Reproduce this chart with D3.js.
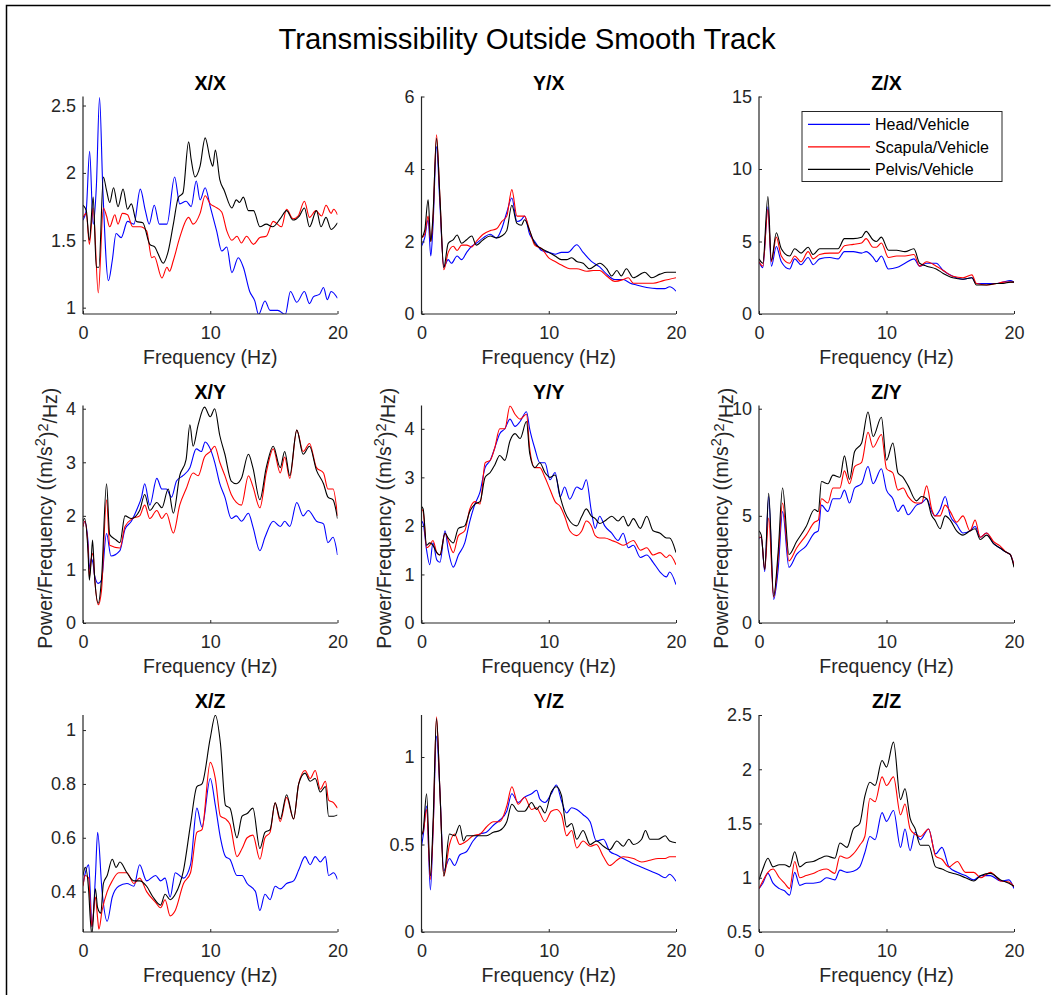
<!DOCTYPE html>
<html><head><meta charset="utf-8">
<script src="https://cdn.jsdelivr.net/npm/d3@7"></script>
<style>
body{margin:0;background:#fff}
svg{display:block}
text{font-family:"Liberation Sans",Arial,Helvetica,sans-serif;fill:#262626}
</style>
</head><body>
<svg id="c" width="1056" height="995"></svg>
<script>
// ---------------- DATA ----------------
const figTitle = "Transmissibility Outside Smooth Track";
const seriesNames = ["Head/Vehicle", "Scapula/Vehicle", "Pelvis/Vehicle"];
const seriesColors = ["#0000ff", "#ff0000", "#000000"];
const panelTitles = ["X/X", "Y/X", "Z/X", "X/Y", "Y/Y", "Z/Y", "X/Z", "Y/Z", "Z/Z"];
const xTicks = [0, 10, 20];
const xDomain = [0, 20];
const yDomains = [[0.953, 2.567], [0, 6], [0, 15], [0, 4.06], [0, 4.48], [0, 10.15], [0.25, 1.056], [0, 1.24], [0.5, 2.5]];
const yTicks = [[1, 1.5, 2, 2.5], [0, 2, 4, 6], [0, 5, 10, 15], [0, 1, 2, 3, 4], [0, 1, 2, 3, 4], [0, 5, 10], [0.4, 0.6, 0.8, 1], [0, 0.5, 1], [0.5, 1, 1.5, 2, 2.5]];
const xLabel = "Frequency (Hz)";

// [frequency Hz, transmissibility]
const xxHead = [[0,1.65],[0.25,1.72],[0.52,2.16],[0.8,1.62],[1.05,1.9],[1.3,2.56],[1.55,1.9],[2.0,1.2],[2.3,1.35],[2.6,1.55],[3.0,1.52],[3.5,1.64],[4.0,1.62],[4.5,1.88],[4.9,1.72],[5.2,1.62],[5.6,1.76],[6.0,1.62],[6.6,1.62],[7.2,1.97],[7.6,1.77],[8.1,1.79],[8.5,1.75],[8.9,1.94],[9.2,1.80],[9.6,1.89],[10.0,1.75],[10.5,1.57],[10.9,1.42],[11.3,1.45],[11.7,1.26],[12.2,1.37],[12.6,1.30],[13.1,1.12],[13.5,1.05],[13.8,0.95],[14.3,1.05],[14.7,0.98],[15.3,0.98],[15.9,0.95],[16.3,1.12],[16.8,1.04],[17.4,1.12],[17.8,1.03],[18.1,1.08],[18.6,1.10],[18.9,1.15],[19.2,1.06],[19.5,1.12],[20,1.07]];
const xxScap = [[0,1.67],[0.26,1.7],[0.5,1.47],[0.8,1.74],[1.2,1.11],[1.6,1.74],[1.85,1.68],[2.1,1.6],[2.5,1.69],[2.75,1.62],[3.1,1.70],[3.5,1.69],[3.9,1.6],[4.5,1.6],[5.0,1.57],[5.4,1.37],[5.6,1.38],[6.2,1.22],[6.6,1.3],[6.8,1.27],[7.1,1.35],[7.6,1.52],[8.3,1.67],[8.65,1.62],[9.2,1.7],[9.6,1.83],[10.0,1.77],[10.35,1.75],[10.9,1.71],[11.3,1.57],[11.7,1.5],[12.1,1.53],[12.45,1.48],[12.85,1.53],[13.4,1.47],[13.9,1.52],[14.4,1.53],[14.95,1.64],[15.6,1.6],[16.0,1.73],[16.5,1.66],[16.9,1.68],[17.4,1.79],[17.8,1.67],[18.3,1.72],[18.75,1.68],[19.1,1.76],[19.5,1.70],[19.7,1.73],[20,1.69]];
const xxPelv = [[0,1.76],[0.26,1.72],[0.5,1.5],[0.8,1.82],[1.05,1.3],[1.25,1.3],[1.6,1.97],[1.85,1.87],[2.1,1.78],[2.4,1.89],[2.75,1.75],[3.15,1.88],[3.5,1.73],[3.8,1.77],[4.2,1.64],[4.7,1.63],[5.25,1.47],[5.65,1.45],[5.9,1.4],[6.3,1.33],[6.7,1.42],[7.1,1.62],[7.5,1.82],[7.85,1.85],[8.3,2.23],[8.5,2.1],[8.8,1.97],[9.2,2.05],[9.6,2.26],[10.0,2.1],[10.2,2.05],[10.4,2.17],[10.75,1.95],[11.1,1.87],[11.7,1.74],[12.05,1.8],[12.3,1.78],[12.6,1.82],[13.0,1.72],[13.4,1.72],[13.9,1.6],[14.4,1.62],[14.9,1.6],[15.5,1.66],[16.0,1.72],[16.5,1.65],[17.0,1.68],[17.4,1.74],[17.8,1.6],[18.35,1.72],[18.7,1.6],[19.1,1.67],[19.5,1.58],[20,1.63]];

const yxHead = [[0,1.87],[0.25,2.1],[0.52,2.6],[0.73,1.6],[0.9,2.4],[1.18,4.62],[1.45,3.0],[1.75,1.3],[2.1,1.5],[2.35,1.4],[2.8,1.6],[3.15,1.5],[3.55,1.7],[3.95,1.87],[4.3,1.95],[4.85,2.1],[5.4,2.2],[5.9,2.1],[6.3,2.35],[6.7,2.8],[7.1,3.2],[7.5,2.55],[7.85,2.6],[8.1,2.7],[8.5,2.2],[8.9,2.0],[9.45,1.75],[10.0,1.7],[10.5,1.65],[11.0,1.7],[11.5,1.7],[12.2,1.91],[12.7,1.7],[13.35,1.45],[14.0,1.3],[14.55,1.1],[15.2,0.95],[15.85,0.95],[16.4,0.85],[16.9,0.8],[17.7,0.73],[18.5,0.7],[19.1,0.7],[19.5,0.75],[20,0.63]];
const yxScap = [[0,2.1],[0.25,2.2],[0.52,2.7],[0.73,2.0],[0.9,2.6],[1.18,4.94],[1.45,3.2],[1.75,1.22],[2.1,1.7],[2.5,1.87],[2.8,1.75],[3.15,1.9],[3.55,1.9],[3.95,1.85],[4.3,2.0],[4.85,2.2],[5.4,2.3],[5.9,2.35],[6.3,2.55],[6.7,2.7],[7.1,3.43],[7.5,2.7],[7.85,2.7],[8.1,2.7],[8.5,2.3],[8.9,1.9],[9.45,1.8],[10.0,1.55],[10.5,1.45],[11.0,1.35],[11.65,1.25],[12.2,1.25],[13.0,1.18],[13.5,1.2],[14.0,1.2],[14.55,1.05],[15.2,0.9],[15.85,0.95],[16.25,1.0],[16.65,0.85],[17.45,0.85],[18.2,0.85],[19.0,0.92],[20,1.0]];
const yxPelv = [[0,2.1],[0.25,2.3],[0.52,3.15],[0.73,2.0],[0.9,2.7],[1.18,4.85],[1.45,3.2],[1.75,1.28],[2.1,1.95],[2.5,2.05],[2.8,2.18],[3.15,1.95],[3.55,2.05],[3.95,2.15],[4.3,1.9],[4.85,2.05],[5.4,2.15],[5.9,2.1],[6.3,2.15],[6.7,2.3],[7.1,3.0],[7.5,2.5],[7.85,2.45],[8.1,2.6],[8.5,2.3],[8.9,1.95],[9.45,1.8],[10.0,1.7],[10.5,1.6],[11.0,1.5],[11.4,1.5],[11.8,1.55],[12.2,1.45],[12.7,1.4],[13.2,1.25],[14.0,1.4],[14.55,1.25],[14.95,1.05],[15.35,1.2],[15.7,1.05],[16.1,1.25],[16.65,1.0],[17.55,1.15],[18.1,1.0],[18.75,1.1],[19.3,1.15],[20,1.15]];

const zxHead = [[0,3.6],[0.3,3.2],[0.7,7.4],[0.97,3.3],[1.36,4.66],[1.75,3.6],[2.4,3.1],[2.8,3.8],[3.3,3.4],[3.85,3.9],[4.25,3.4],[4.75,3.8],[5.55,3.9],[6.2,3.8],[6.7,4.3],[7.4,4.3],[8.05,4.2],[8.4,4.3],[8.95,3.9],[9.2,3.6],[9.6,4.0],[10.15,3.1],[10.8,3.2],[11.45,3.5],[12.15,3.8],[12.6,3.3],[13.15,3.5],[13.9,3.5],[14.45,3.0],[15.2,2.6],[16.0,2.4],[16.7,2.5],[17.05,2.1],[17.85,2.1],[18.65,2.1],[19.15,2.2],[19.7,2.3],[20,2.2]];
const zxScap = [[0,3.6],[0.3,3.3],[0.7,7.2],[0.97,3.6],[1.36,5.3],[1.75,4.0],[2.4,3.5],[2.8,4.0],[3.3,3.6],[3.85,4.3],[4.25,3.8],[4.75,4.1],[5.55,4.2],[6.2,4.2],[6.7,4.7],[7.4,4.8],[8.05,4.9],[8.4,5.2],[8.95,4.6],[9.2,4.6],[9.6,4.9],[10.15,3.9],[10.8,4.0],[11.45,4.0],[12.15,4.1],[12.6,3.3],[13.15,3.6],[13.9,3.3],[14.45,3.0],[15.2,2.6],[16.0,2.5],[16.7,2.7],[17.05,2.1],[17.85,2.0],[18.65,2.1],[19.15,2.2],[19.7,2.2],[20,2.2]];
const zxPelv = [[0,3.8],[0.3,3.5],[0.7,8.1],[0.97,3.7],[1.36,5.6],[1.75,4.5],[2.4,4.0],[2.8,4.5],[3.3,4.2],[3.85,4.6],[4.25,4.1],[4.75,4.5],[5.55,4.5],[6.2,4.5],[6.7,5.2],[7.4,5.2],[8.05,5.3],[8.4,5.7],[8.95,5.1],[9.2,5.0],[9.6,5.3],[10.15,4.4],[10.8,4.4],[11.45,4.3],[12.15,4.5],[12.6,3.5],[13.15,3.3],[13.9,3.1],[14.45,2.8],[15.2,2.5],[16.0,2.4],[16.7,2.5],[17.05,2.0],[17.85,2.0],[18.65,2.1],[19.15,2.1],[19.7,2.2],[20,2.2]];

const xyHead = [[0,1.8],[0.13,1.9],[0.4,1.5],[0.5,1.0],[0.65,1.2],[0.8,1.1],[0.9,0.9],[1.2,0.74],[1.45,0.8],[1.85,1.67],[2.2,1.25],[2.9,1.35],[3.3,1.75],[3.8,1.9],[4.2,2.1],[4.6,2.35],[4.85,2.6],[5.25,2.2],[5.8,2.7],[6.2,2.5],[6.55,2.5],[6.95,2.35],[7.35,2.65],[7.85,2.75],[8.4,2.9],[8.9,3.25],[9.3,3.2],[9.6,3.38],[10.0,3.25],[10.35,3.0],[10.75,2.6],[11.15,2.35],[11.65,1.95],[12.05,2.0],[12.45,1.9],[13.0,2.05],[13.35,1.8],[13.9,1.35],[14.3,1.6],[14.95,1.9],[15.5,1.8],[15.85,1.9],[16.25,1.8],[16.8,2.25],[17.3,2.0],[17.7,2.1],[18.35,1.9],[18.9,1.85],[19.25,1.5],[19.65,1.6],[20,1.27]];
const xyScap = [[0,1.8],[0.13,1.9],[0.4,1.4],[0.5,0.85],[0.65,1.2],[0.8,1.3],[0.9,0.9],[1.2,0.34],[1.45,0.6],[1.85,2.3],[2.1,1.45],[2.9,1.4],[3.3,1.8],[3.9,1.95],[4.45,2.0],[4.85,2.2],[5.25,1.95],[5.8,2.1],[6.2,1.95],[6.55,2.05],[7.1,1.68],[7.6,2.2],[8.1,2.5],[8.65,2.8],[9.05,2.75],[9.55,3.1],[10.0,3.2],[10.35,3.3],[10.75,3.0],[11.15,2.75],[11.65,2.4],[12.05,2.25],[12.45,2.2],[13.0,2.75],[13.35,2.55],[13.9,2.15],[14.4,2.8],[14.95,3.25],[15.5,2.8],[15.85,3.1],[16.25,2.7],[16.8,3.6],[17.3,3.2],[17.8,3.35],[18.35,2.9],[18.9,2.8],[19.25,2.5],[19.65,2.5],[20,2.0]];
const xyPelv = [[0,1.9],[0.13,1.95],[0.4,1.3],[0.5,0.8],[0.65,1.2],[0.75,1.55],[0.9,0.9],[1.2,0.37],[1.45,0.8],[1.85,2.6],[2.1,1.65],[2.6,1.55],[2.9,1.5],[3.3,2.0],[3.8,1.95],[4.45,2.1],[4.85,2.4],[5.25,2.1],[5.8,2.25],[6.2,2.15],[6.7,2.5],[7.1,2.05],[7.6,2.75],[8.1,3.05],[8.4,3.7],[8.65,3.3],[9.05,3.7],[9.55,4.03],[10.0,3.85],[10.35,4.0],[10.75,3.5],[11.15,3.15],[11.65,2.65],[12.05,2.6],[12.45,2.7],[13.0,3.15],[13.35,2.9],[13.9,2.3],[14.4,2.9],[14.95,3.3],[15.5,2.9],[15.85,3.2],[16.25,2.75],[16.8,3.6],[17.3,3.15],[17.8,3.3],[18.35,2.85],[18.9,2.6],[19.25,2.35],[19.65,2.3],[20,1.95]];

const yyHead = [[0,2.1],[0.13,2.05],[0.4,1.5],[0.65,1.2],[0.9,1.65],[1.2,1.3],[1.45,1.25],[1.85,1.9],[2.1,1.5],[2.5,1.15],[2.9,1.4],[3.4,1.65],[3.8,2.1],[4.2,2.45],[4.6,2.7],[5.0,3.2],[5.4,3.35],[5.75,3.6],[6.15,3.9],[6.55,4.0],[6.95,4.2],[7.35,4.05],[7.75,4.15],[8.25,4.35],[8.5,4.0],[8.9,3.6],[9.3,3.3],[9.7,3.3],[10.1,2.95],[10.5,3.1],[10.9,2.6],[11.25,2.8],[11.65,2.55],[12.2,2.8],[12.6,2.75],[12.95,2.95],[13.35,2.3],[13.65,1.95],[14.0,2.2],[14.4,2.0],[14.95,1.85],[15.45,1.7],[15.85,1.85],[16.25,1.55],[16.65,1.6],[17.2,1.35],[17.7,1.4],[18.2,1.25],[18.75,1.05],[19.25,0.95],[19.5,1.05],[20,0.79]];
const yyScap = [[0,2.35],[0.13,2.3],[0.4,1.55],[0.65,1.6],[0.9,1.7],[1.2,1.45],[1.45,1.4],[1.85,1.85],[2.1,1.7],[2.5,1.45],[2.9,1.8],[3.4,1.9],[3.8,2.35],[4.2,2.5],[4.6,2.45],[5.0,3.3],[5.4,3.35],[5.75,3.6],[6.15,4.0],[6.55,4.0],[6.95,4.47],[7.35,4.3],[7.75,4.2],[8.25,4.3],[8.5,3.6],[8.9,3.2],[9.3,3.2],[9.7,3.0],[10.1,2.75],[10.5,2.5],[10.9,2.4],[11.25,2.2],[11.65,1.9],[12.2,1.8],[12.6,1.9],[12.95,2.1],[13.35,2.0],[13.65,1.8],[14.0,1.75],[14.4,1.75],[14.95,1.7],[15.45,1.65],[15.85,1.6],[16.25,1.65],[16.65,1.7],[17.2,1.5],[17.7,1.55],[18.2,1.4],[18.75,1.45],[19.25,1.35],[19.5,1.4],[20,1.2]];
const yyPelv = [[0,2.4],[0.13,2.35],[0.4,1.6],[0.65,1.65],[0.9,1.6],[1.2,1.45],[1.45,1.4],[1.85,1.85],[2.1,1.75],[2.5,1.65],[2.9,1.95],[3.4,2.0],[3.8,2.3],[4.2,2.45],[4.6,2.5],[5.0,3.0],[5.4,3.1],[5.75,3.25],[6.15,3.45],[6.55,3.35],[6.95,3.75],[7.35,3.9],[7.75,3.8],[8.25,4.15],[8.5,3.5],[8.9,3.2],[9.3,3.3],[9.7,3.1],[10.1,3.0],[10.5,3.05],[10.9,2.6],[11.25,2.3],[11.65,2.1],[12.2,2.0],[12.6,2.2],[12.95,2.35],[13.35,2.2],[13.65,2.15],[14.0,2.05],[14.4,2.1],[14.95,2.2],[15.45,2.1],[15.85,2.2],[16.25,2.0],[16.65,2.15],[17.2,1.95],[17.7,2.2],[18.2,1.9],[18.75,1.85],[19.25,1.75],[19.5,1.75],[20,1.45]];

const zyHead = [[0,3.95],[0.18,4.0],[0.45,2.4],[0.76,5.9],[1.15,1.1],[1.5,2.5],[1.85,5.2],[2.35,2.6],[2.95,3.2],[3.7,3.6],[4.35,4.2],[4.65,4.3],[4.9,5.5],[5.4,5.2],[5.8,5.8],[6.35,5.8],[6.7,6.2],[7.1,5.6],[7.5,6.3],[8.05,6.5],[8.55,7.3],[8.95,6.5],[9.6,7.2],[10.0,6.2],[10.5,5.8],[10.9,5.2],[11.3,5.5],[11.7,5.05],[12.35,5.5],[12.75,5.6],[13.15,5.8],[13.55,5.2],[13.8,5.0],[14.2,5.3],[14.6,5.9],[15.0,5.0],[15.5,4.6],[16.0,4.2],[16.55,4.3],[16.95,4.5],[17.35,4.0],[17.85,4.2],[18.4,3.7],[18.9,3.5],[19.4,3.3],[19.7,3.2],[20,2.7]];
const zyScap = [[0,4.0],[0.18,4.0],[0.45,2.5],[0.76,4.9],[1.15,1.2],[1.5,3.0],[1.85,5.6],[2.35,2.9],[2.95,3.5],[3.7,4.1],[4.35,4.7],[4.65,4.8],[4.9,5.8],[5.4,5.6],[5.8,6.3],[6.35,6.3],[6.7,7.1],[7.1,6.5],[7.5,7.3],[8.05,7.5],[8.55,8.9],[8.95,8.2],[9.6,8.8],[10.0,7.2],[10.5,7.0],[10.9,6.2],[11.3,6.3],[11.7,5.9],[12.35,5.6],[12.75,5.6],[13.15,6.4],[13.55,5.3],[13.8,5.0],[14.2,5.0],[14.6,5.5],[15.0,5.2],[15.5,4.7],[16.0,5.0],[16.55,4.3],[16.95,4.8],[17.35,4.0],[17.85,4.2],[18.4,3.8],[18.9,3.6],[19.4,3.3],[19.7,3.2],[20,2.7]];
const zyPelv = [[0,4.3],[0.18,4.1],[0.45,2.5],[0.76,6.05],[1.15,1.25],[1.5,3.3],[1.85,6.3],[2.35,3.2],[2.95,3.8],[3.7,4.5],[4.35,5.3],[4.65,5.2],[4.9,6.6],[5.4,6.5],[5.8,6.9],[6.35,6.8],[6.7,7.8],[7.1,6.7],[7.5,8.0],[8.05,8.4],[8.55,9.85],[8.95,8.7],[9.6,9.6],[10.0,7.6],[10.5,8.4],[10.9,7.0],[11.3,6.8],[11.7,6.4],[12.35,5.7],[12.75,5.9],[13.15,5.8],[13.55,5.0],[13.8,4.8],[14.2,4.4],[14.6,5.0],[15.0,4.8],[15.5,4.3],[16.0,4.1],[16.55,4.3],[16.95,4.4],[17.35,3.9],[17.85,4.1],[18.4,3.7],[18.9,3.5],[19.4,3.3],[19.7,3.2],[20,2.6]];

const xzHead = [[0,0.425],[0.18,0.47],[0.45,0.5],[0.57,0.4],[0.7,0.27],[0.97,0.45],[1.15,0.62],[1.5,0.4],[1.9,0.29],[2.3,0.38],[2.8,0.42],[3.45,0.43],[4.0,0.42],[4.45,0.5],[5.0,0.44],[5.7,0.46],[6.1,0.44],[6.45,0.45],[6.85,0.38],[7.25,0.47],[7.9,0.45],[8.45,0.5],[8.95,0.71],[9.35,0.64],[10.0,0.82],[10.4,0.72],[10.8,0.6],[11.2,0.53],[11.55,0.52],[12.1,0.46],[12.5,0.46],[12.9,0.43],[13.55,0.40],[13.9,0.33],[14.3,0.39],[14.7,0.37],[15.1,0.42],[15.5,0.41],[16.0,0.43],[16.55,0.44],[16.95,0.48],[17.45,0.53],[17.85,0.50],[18.25,0.53],[18.65,0.51],[19.05,0.53],[19.3,0.46],[19.7,0.47],[20,0.445]];
const xzScap = [[0,0.42],[0.18,0.46],[0.45,0.45],[0.57,0.35],[0.7,0.27],[0.97,0.38],[1.15,0.3],[1.25,0.26],[1.5,0.33],[1.9,0.4],[2.3,0.44],[2.8,0.47],[3.45,0.47],[4.0,0.43],[4.45,0.45],[5.0,0.4],[5.7,0.36],[6.1,0.34],[6.45,0.37],[6.85,0.31],[7.25,0.33],[7.9,0.43],[8.45,0.47],[8.95,0.62],[9.35,0.63],[10.0,0.88],[10.4,0.82],[10.8,0.68],[11.2,0.67],[11.55,0.65],[12.1,0.53],[12.5,0.56],[12.9,0.6],[13.35,0.61],[13.9,0.52],[14.3,0.6],[14.7,0.62],[15.1,0.73],[15.5,0.66],[16.0,0.75],[16.55,0.67],[16.95,0.8],[17.45,0.85],[17.85,0.82],[18.25,0.85],[18.65,0.78],[19.05,0.81],[19.3,0.74],[19.7,0.73],[20,0.71]];
const xzPelv = [[0,0.46],[0.18,0.49],[0.45,0.4],[0.57,0.3],[0.7,0.24],[0.97,0.41],[1.15,0.34],[1.4,0.32],[1.6,0.43],[1.9,0.46],[2.3,0.52],[2.6,0.49],[2.9,0.51],[3.45,0.47],[4.0,0.44],[4.45,0.44],[5.0,0.42],[5.5,0.38],[6.1,0.35],[6.45,0.39],[6.85,0.37],[7.25,0.39],[7.9,0.48],[8.45,0.65],[8.95,0.79],[9.35,0.8],[10.0,0.97],[10.4,1.055],[10.8,0.95],[11.2,0.72],[11.55,0.71],[12.1,0.6],[12.5,0.68],[12.9,0.69],[13.35,0.71],[13.9,0.56],[14.3,0.62],[14.7,0.63],[15.1,0.73],[15.5,0.67],[16.0,0.76],[16.55,0.67],[16.95,0.8],[17.45,0.84],[17.85,0.81],[18.25,0.82],[18.65,0.77],[19.05,0.79],[19.3,0.68],[19.7,0.68],[20,0.685]];

const yzHead = [[0,0.49],[0.13,0.55],[0.4,0.72],[0.7,0.24],[0.92,0.6],[1.18,1.12],[1.45,0.8],[1.75,0.35],[2.2,0.42],[2.6,0.38],[3.0,0.44],[3.55,0.46],[4.05,0.52],[4.6,0.56],[5.1,0.57],[5.65,0.61],[6.15,0.64],[6.7,0.69],[7.1,0.79],[7.6,0.74],[8.1,0.77],[8.65,0.79],[9.05,0.81],[9.3,0.76],[9.7,0.74],[10.2,0.79],[10.6,0.84],[11.0,0.75],[11.4,0.68],[11.8,0.71],[12.2,0.7],[12.7,0.67],[13.25,0.63],[13.75,0.52],[14.3,0.53],[14.8,0.46],[15.35,0.44],[15.85,0.42],[16.65,0.39],[17.3,0.37],[17.95,0.35],[18.6,0.33],[19.15,0.31],[19.5,0.33],[20,0.29]];
const yzScap = [[0,0.56],[0.13,0.57],[0.4,0.7],[0.7,0.3],[0.92,0.6],[1.18,1.23],[1.45,0.8],[1.75,0.32],[2.2,0.5],[2.6,0.56],[3.0,0.5],[3.55,0.52],[4.05,0.55],[4.6,0.56],[5.1,0.6],[5.65,0.63],[6.15,0.63],[6.7,0.72],[7.1,0.83],[7.6,0.73],[8.1,0.77],[8.65,0.7],[9.05,0.71],[9.3,0.68],[9.7,0.63],[10.2,0.69],[10.6,0.7],[11.0,0.67],[11.4,0.55],[11.8,0.58],[12.2,0.48],[12.7,0.52],[13.25,0.49],[13.75,0.5],[14.3,0.43],[14.8,0.38],[15.35,0.41],[15.85,0.43],[16.65,0.42],[17.3,0.4],[17.95,0.41],[18.6,0.42],[19.15,0.42],[19.5,0.43],[20,0.43]];
const yzPelv = [[0,0.55],[0.13,0.58],[0.4,0.79],[0.7,0.32],[0.92,0.65],[1.18,1.22],[1.45,0.8],[1.75,0.32],[2.2,0.56],[2.6,0.55],[3.0,0.61],[3.3,0.52],[3.55,0.55],[4.05,0.55],[4.6,0.55],[5.1,0.55],[5.65,0.57],[6.15,0.58],[6.7,0.63],[7.1,0.73],[7.6,0.69],[8.1,0.69],[8.65,0.74],[9.05,0.7],[9.3,0.72],[9.7,0.68],[10.2,0.8],[10.6,0.83],[11.0,0.78],[11.4,0.6],[11.8,0.62],[12.2,0.53],[12.7,0.58],[13.25,0.5],[13.75,0.52],[14.3,0.49],[14.8,0.47],[15.35,0.52],[15.85,0.49],[16.3,0.53],[16.65,0.5],[17.3,0.53],[17.6,0.58],[17.95,0.53],[18.6,0.53],[19.15,0.55],[19.5,0.52],[20,0.51]];

const zzHead = [[0,0.9],[0.3,0.95],[0.7,1.04],[1.1,0.95],[1.6,0.9],[2.0,0.88],[2.4,0.84],[2.8,1.05],[3.2,0.93],[3.7,0.95],[4.25,0.95],[4.8,0.96],[5.3,1.0],[5.95,0.98],[6.35,1.07],[6.9,1.05],[7.4,1.06],[7.9,1.1],[8.3,1.23],[8.7,1.38],[9.1,1.35],[9.65,1.6],[10.0,1.52],[10.55,1.62],[11.1,1.28],[11.45,1.45],[11.85,1.25],[12.25,1.42],[12.65,1.35],[13.3,1.45],[13.85,1.22],[14.35,1.28],[14.9,1.1],[15.55,1.05],[16.2,1.02],[16.85,0.98],[17.4,1.02],[18.15,1.02],[18.95,0.97],[19.6,0.98],[20,0.9]];
const zzScap = [[0,0.9],[0.3,0.97],[0.7,1.05],[1.1,1.08],[1.6,1.0],[2.0,0.95],[2.4,0.9],[2.8,1.15],[3.2,1.0],[3.7,1.02],[4.25,1.04],[4.8,1.07],[5.3,1.08],[5.95,1.04],[6.35,1.2],[6.9,1.18],[7.4,1.22],[7.9,1.3],[8.3,1.38],[8.7,1.73],[9.1,1.7],[9.65,1.93],[10.0,1.85],[10.55,1.93],[11.1,1.58],[11.45,1.68],[11.85,1.45],[12.25,1.4],[12.65,1.38],[13.3,1.45],[13.85,1.2],[14.35,1.17],[14.9,1.1],[15.55,1.15],[16.2,1.05],[16.85,1.05],[17.4,1.0],[18.15,1.05],[18.95,0.97],[19.6,0.96],[20,0.92]];
const zzPelv = [[0,0.98],[0.3,1.08],[0.7,1.18],[1.1,1.1],[1.6,1.12],[2.0,1.12],[2.4,1.1],[2.8,1.24],[3.2,1.1],[3.7,1.14],[4.25,1.15],[4.8,1.18],[5.3,1.2],[5.95,1.18],[6.35,1.32],[6.9,1.28],[7.4,1.45],[7.9,1.5],[8.3,1.75],[8.7,1.88],[9.1,1.85],[9.65,2.08],[10.0,2.02],[10.55,2.25],[11.1,1.72],[11.45,1.82],[11.85,1.55],[12.25,1.45],[12.65,1.3],[13.3,1.3],[13.85,1.1],[14.35,1.08],[14.9,1.05],[15.55,1.03],[16.2,1.0],[16.85,0.97],[17.4,1.02],[18.15,1.04],[18.95,0.98],[19.6,0.95],[20,0.92]];

const panelSeries = [
  [xxHead, xxScap, xxPelv], [yxHead, yxScap, yxPelv], [zxHead, zxScap, zxPelv],
  [xyHead, xyScap, xyPelv], [yyHead, yyScap, yyPelv], [zyHead, zyScap, zyPelv],
  [xzHead, xzScap, xzPelv], [yzHead, yzScap, yzPelv], [zzHead, zzScap, zzPelv]
];

// ---------------- LAYOUT ----------------
const colX = [[83, 337.5], [421.5, 676], [759, 1014]];
const rowY = [[96.5, 314], [405.5, 623], [715, 932]];
const axisColor = "#262626";

const svg = d3.select("#c");
// figure frame
svg.append("path").attr("d", "M6.5,995V5.5H1050.5").attr("fill", "none").attr("stroke", "#000").attr("stroke-width", 1.5);

svg.append("text").attr("x", 527).attr("y", 49).attr("text-anchor", "middle")
  .style("font-size", "29.3px").style("fill", "#000").text(figTitle);

const defs = svg.append("defs");

panelTitles.forEach((title, i) => {
  const c = i % 3, r = Math.floor(i / 3);
  const [x0, x1] = colX[c], [y0, y1] = rowY[r];
  const xs = d3.scaleLinear().domain(xDomain).range([x0, x1]);
  const ys = d3.scaleLinear().domain(yDomains[i]).range([y1, y0]);
  const g = svg.append("g");

  defs.append("clipPath").attr("id", "clip" + i).append("rect")
    .attr("x", x0).attr("y", y0).attr("width", x1 - x0).attr("height", y1 - y0);

  const line = d3.line().x(d => xs(d[0])).y(d => ys(d[1])).curve(d3.curveMonotoneX);
  const lg = g.append("g").attr("clip-path", `url(#clip${i})`);
  panelSeries[i].forEach((s, k) => {
    lg.append("path").datum(s).attr("d", line).attr("fill", "none")
      .attr("stroke", seriesColors[k]).attr("stroke-width", 1.1).attr("stroke-linejoin", "round");
  });

  // x axis
  const xa = g.append("g").attr("transform", `translate(0,${y1})`)
    .call(d3.axisBottom(xs).tickValues(xTicks).tickSize(-3).tickPadding(8).tickFormat(d3.format("d")));
  // y axis
  const ya = g.append("g").attr("transform", `translate(${x0},0)`)
    .call(d3.axisLeft(ys).tickValues(yTicks[i]).tickSize(-3).tickPadding(7).tickFormat(d => String(+d.toFixed(2))));
  [xa, ya].forEach(a => {
    a.select(".domain").attr("stroke", axisColor).attr("stroke-width", 1.2);
    a.selectAll(".tick line").attr("stroke", axisColor);
    a.selectAll(".tick text").style("font-size", "18px").style("fill", axisColor).attr("font-family", null);
  });
  xa.select(".domain").attr("d", `M${x0},0H${x1}`);
  ya.select(".domain").attr("d", `M0,${y1}V${y0}`);
  xa.selectAll(".tick text").attr("dy", "0.95em");

  // titles
  g.append("text").attr("x", (x0 + x1) / 2).attr("y", y0 - 7).attr("text-anchor", "middle")
    .style("font-size", "19.5px").style("font-weight", "bold").style("fill", "#000").text(title);
  g.append("text").attr("x", (x0 + x1) / 2).attr("y", y1 + 50).attr("text-anchor", "middle")
    .style("font-size", "19.5px").text(xLabel);

  if (r === 1) {
    const yl = g.append("text").attr("transform", `translate(${x0 - 31},${(y0 + y1) / 2 + 4}) rotate(-90)`)
      .attr("text-anchor", "middle").style("font-size", "19.5px");
    yl.append("tspan").text("Power/Frequency ((m/s");
    yl.append("tspan").attr("dy", "-0.45em").style("font-size", "14.5px").text("2");
    yl.append("tspan").attr("dy", "0.45em").text(")");
    yl.append("tspan").attr("dy", "-0.45em").style("font-size", "14.5px").text("2");
    yl.append("tspan").attr("dy", "0.45em").text("/Hz)");
  }

  if (i === 2) {
    const lgd = g.append("g");
    lgd.append("rect").attr("x", 802).attr("y", 111.5).attr("width", 200).attr("height", 70)
      .attr("fill", "#fff").attr("stroke", axisColor).attr("stroke-width", 1);
    seriesNames.forEach((n, k) => {
      const yy = 124.3 + k * 22.5;
      lgd.append("line").attr("x1", 808).attr("x2", 870).attr("y1", yy).attr("y2", yy)
        .attr("stroke", seriesColors[k]).attr("stroke-width", 1.2);
      lgd.append("text").attr("x", 875).attr("y", yy).attr("dy", "0.36em")
        .style("font-size", "16px").style("fill", "#000").text(n);
    });
  }
});
</script>
</body></html>
